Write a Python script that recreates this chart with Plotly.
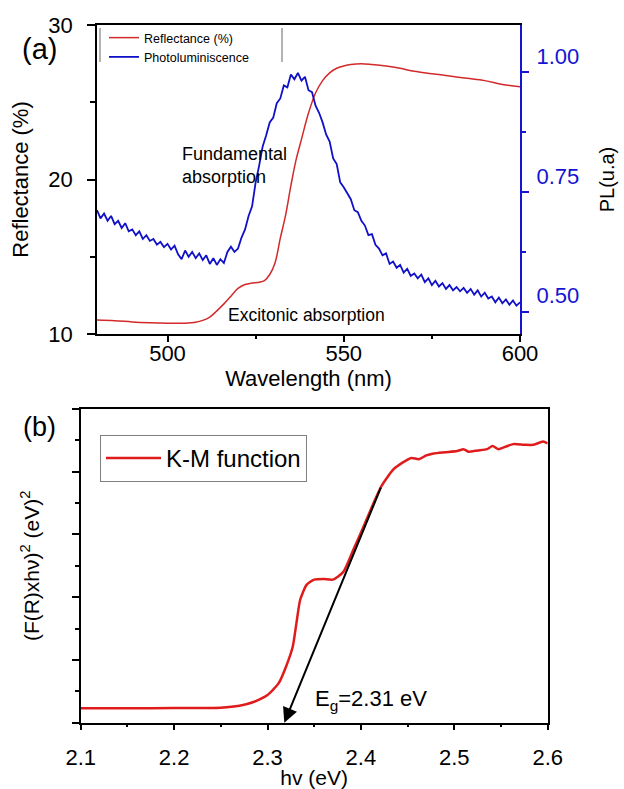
import plotly.graph_objects as go

# ---------------- Panel (a) data ----------------
wl_refl = [480, 485, 490, 495, 500, 505, 508, 510, 512, 514, 516, 518, 520, 522, 524, 526,
           527.5, 529, 530.5, 532, 533.5, 535, 536.5, 538, 540, 542, 544, 546, 548, 550,
           552, 555, 558, 562, 566, 570, 575, 580, 585, 590, 595, 600]
reflectance = [10.90, 10.86, 10.78, 10.73, 10.70, 10.70, 10.76, 10.88, 11.1, 11.5, 11.95, 12.45,
               12.95, 13.2, 13.3, 13.35, 13.45, 13.85, 14.6, 16.2, 17.7, 19.6, 21.3, 22.6, 24.3,
               25.6, 26.4, 26.9, 27.2, 27.35, 27.45, 27.5, 27.45, 27.35, 27.2, 27.0, 26.85,
               26.7, 26.55, 26.4, 26.15, 26.0]

wl_pl = list(range(480, 601))
pl = [0.712, 0.695, 0.705, 0.690, 0.700, 0.683, 0.690, 0.675, 0.685, 0.668,
      0.672, 0.660, 0.668, 0.652, 0.660, 0.648, 0.652, 0.640, 0.646, 0.635,
      0.642, 0.630, 0.638, 0.620, 0.610, 0.628, 0.615, 0.625, 0.612, 0.622,
      0.608, 0.618, 0.600, 0.612, 0.598, 0.610, 0.602, 0.625, 0.636, 0.625,
      0.632, 0.655, 0.672, 0.700, 0.720, 0.770, 0.805, 0.845, 0.868, 0.895,
      0.905, 0.935, 0.945, 0.972, 0.968, 0.995, 0.985, 0.998, 0.982, 0.990,
      0.962, 0.958, 0.930, 0.915, 0.895, 0.870, 0.855, 0.820, 0.808, 0.770,
      0.760, 0.748, 0.735, 0.712, 0.708, 0.690, 0.680, 0.660, 0.662, 0.640,
      0.632, 0.618, 0.622, 0.600, 0.605, 0.592, 0.598, 0.582, 0.590, 0.575,
      0.580, 0.570, 0.578, 0.562, 0.570, 0.556, 0.565, 0.553, 0.560, 0.548,
      0.556, 0.545, 0.552, 0.543, 0.550, 0.540, 0.548, 0.536, 0.545, 0.532,
      0.540, 0.528, 0.532, 0.520, 0.530, 0.518, 0.526, 0.515, 0.524, 0.513,
      0.520]

# ---------------- Panel (b) data ----------------
hv = [2.10, 2.15, 2.20, 2.25, 2.27, 2.285, 2.30, 2.312, 2.320, 2.327, 2.331, 2.335, 2.342,
      2.35, 2.36, 2.37, 2.381, 2.392, 2.403, 2.413, 2.422, 2.435, 2.445, 2.454, 2.462, 2.47,
      2.478, 2.49, 2.503, 2.510, 2.515, 2.525, 2.535, 2.541, 2.547, 2.555, 2.563, 2.575,
      2.585, 2.595, 2.60]
km = [0.23, 0.23, 0.235, 0.24, 0.27, 0.33, 0.44, 0.63, 0.90, 1.21, 1.59, 1.96, 2.20,
      2.28, 2.29, 2.28, 2.40, 2.76, 3.13, 3.48, 3.77, 4.04, 4.15, 4.22, 4.20, 4.26,
      4.29, 4.31, 4.33, 4.36, 4.32, 4.34, 4.36, 4.41, 4.36, 4.40, 4.44, 4.43,
      4.43, 4.48, 4.45]

eg_line_x = [2.422, 2.318]
eg_line_y = [3.77, 0.0]

W, H = 624, 789
def px(v):
    return v / W
def py(v):
    return 1 - v / H

FONT = "Liberation Sans, Arial, sans-serif"
BLUE = "#1414d2"

fig = go.Figure()
fig.add_trace(go.Scatter(x=wl_refl, y=reflectance, mode="lines", name="Reflectance (%)",
                         line=dict(color="#d22a2a", width=1.5, shape="spline"),
                         xaxis="x", yaxis="y", legend="legend"))
fig.add_trace(go.Scatter(x=wl_pl, y=pl, mode="lines", name="Photoluminiscence",
                         line=dict(color="#1010c8", width=1.8),
                         xaxis="x", yaxis="y2", legend="legend"))
fig.add_trace(go.Scatter(x=hv, y=km, mode="lines", name="K-M function",
                         line=dict(color="#e01b1b", width=2.5, shape="spline", smoothing=0.6),
                         xaxis="x2", yaxis="y3", legend="legend2"))

axis_common = dict(showgrid=False, zeroline=False, showline=True, linecolor="black",
                   linewidth=1.5, ticks="outside", tickcolor="black", tickwidth=1.5,
                   automargin=False)

fig.update_layout(
    width=W, height=H, margin=dict(l=0, r=0, t=0, b=0, autoexpand=False),
    paper_bgcolor="white", plot_bgcolor="white",
    font=dict(family=FONT, color="black", size=20),
    xaxis=dict(**axis_common, domain=[px(97), px(520)], anchor="y", range=[480, 600],
               tickvals=[500, 550, 600], ticklen=6, mirror=True,
               minor=dict(tickvals=[525, 575], ticklen=3, ticks="outside", tickcolor="black"),
               tickfont=dict(size=22), ticklabelstandoff=-7,
               title=dict(text="Wavelength (nm)", font=dict(size=22), standoff=2)),
    yaxis=dict(**axis_common, domain=[py(334), py(25)], anchor="x", range=[10, 30],
               tickvals=[10, 20, 30], ticklen=8,
               minor=dict(tickvals=[15, 25], ticklen=5, ticks="outside", tickcolor="black"),
               tickfont=dict(size=22), ticklabelstandoff=10,
               title=dict(text="Reflectance (%)", font=dict(size=22), standoff=14)),
    yaxis2=dict(showgrid=False, zeroline=False, showline=True, linecolor=BLUE, linewidth=2,
                ticks="outside", tickcolor=BLUE, tickwidth=1.5, ticklen=7, automargin=False,
                overlaying="y", side="right", anchor="x", range=[0.454, 1.098],
                tickvals=[0.5, 0.75, 1.0], ticktext=["0.50", "0.75", "1.00"],
                minor=dict(tickvals=[0.625, 0.875], ticklen=4, ticks="outside", tickcolor=BLUE),
                tickfont=dict(size=22, color=BLUE), ticklabelposition="outside top",
                ticklabelstandoff=10,
                title=dict(text="PL(u.a)", font=dict(size=20, color="black"), standoff=22)),
    xaxis2=dict(**axis_common, domain=[px(80.7), px(547.7)], anchor="y3", range=[2.1, 2.6],
                tickvals=[2.1, 2.2, 2.3, 2.4, 2.5, 2.6],
                ticktext=["2.1", "2.2", "2.3", "2.4", "2.5", "2.6"], ticklen=6, mirror=True,
                minor=dict(dtick=0.05, ticklen=3, ticks="outside", tickcolor="black"),
                tickfont=dict(size=22), ticklabelstandoff=8,
                title=dict(text="hv (eV)", font=dict(size=21), standoff=0)),
    yaxis3=dict(**axis_common, domain=[py(722.7), py(409)], anchor="x2", range=[0, 5],
                dtick=1, ticklen=7, mirror=True, showticklabels=False,
                minor=dict(dtick=0.5, ticklen=4, ticks="outside", tickcolor="black"),
                title=dict(text="(F(R)xhν)<sup>2</sup> (eV)<sup>2</sup>", font=dict(size=21),
                           standoff=27)),
    legend=dict(x=px(104), y=py(23), xanchor="left", yanchor="top",
                font=dict(size=12.5), bgcolor="rgba(0,0,0,0)", borderwidth=0,
                tracegroupgap=0),
    legend2=dict(x=px(100), y=py(435), xanchor="left", yanchor="top",
                 font=dict(size=24), bgcolor="white", bordercolor="#808080", borderwidth=1,
                 itemwidth=55),
    showlegend=True,
)

fig.add_annotation(x=px(39), y=py(49), xref="paper", yref="paper", text="(a)",
                   showarrow=False, font=dict(size=29), xanchor="center", yanchor="middle")
fig.add_annotation(x=px(39), y=py(427), xref="paper", yref="paper", text="(b)",
                   showarrow=False, font=dict(size=27), xanchor="center", yanchor="middle")
fig.add_annotation(x=503.6, y=20.9, xref="x", yref="y", text="Fundamental<br>absorption",
                   showarrow=False, font=dict(size=18), xanchor="left", yanchor="middle",
                   align="left")
fig.add_annotation(x=516.6, y=11.23, xref="x", yref="y", text="Excitonic absorption",
                   showarrow=False, font=dict(size=17.5), xanchor="left", yanchor="middle")
fig.add_annotation(x=2.349, y=0.36, xref="x2", yref="y3", text="E<sub>g</sub>=2.31 eV",
                   showarrow=False, font=dict(size=22), xanchor="left", yanchor="middle")
fig.add_annotation(x=eg_line_x[1], y=eg_line_y[1], xref="x2", yref="y3",
                   ax=eg_line_x[0], ay=eg_line_y[0], axref="x2", ayref="y3",
                   text="", showarrow=True, arrowhead=2, arrowsize=1.5, arrowwidth=2,
                   arrowcolor="black")

# legend side bars of panel (a)
for xb in (100, 282):
    fig.add_shape(type="line", xref="paper", yref="paper", x0=px(xb), x1=px(xb),
                  y0=py(28), y1=py(62), line=dict(color="#9a9a9a", width=1.5))

fig.write_html("out.html")
